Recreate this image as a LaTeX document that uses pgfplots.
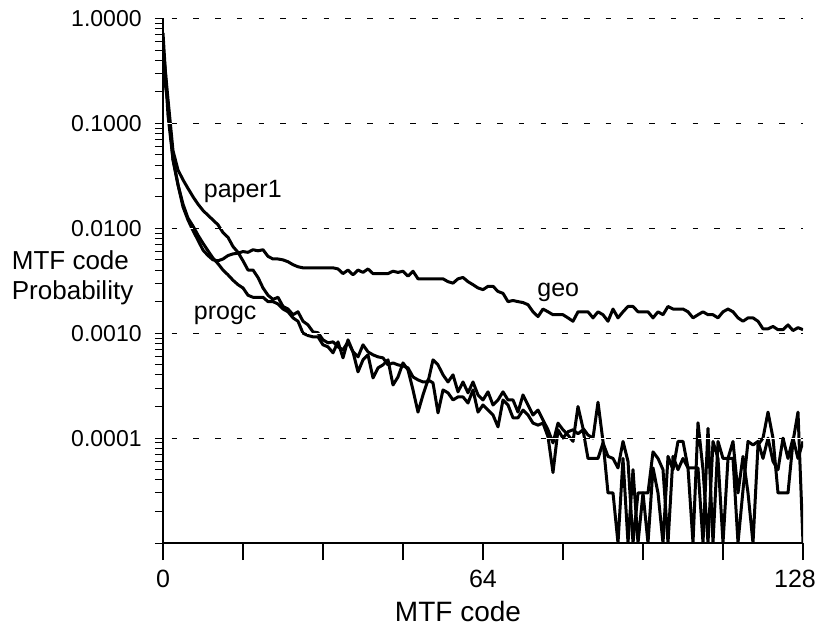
\documentclass[border=0pt]{standalone}
\usepackage{fontspec}
\setmainfont{Liberation Sans}
\usepackage{pgfplots}
\pgfplotsset{compat=1.18}
\usetikzlibrary{calc}
\pgfplotsset{mtf/.style={black, line width=1.5pt, line join=round, mark=none}}

\begin{document}
\begin{tikzpicture}
\begin{axis}[
  scale only axis, width=320pt, height=262.25pt,
  ymode=log, xmin=0, xmax=128, ymin=1e-5, ymax=1,
  axis x line*=bottom, axis y line*=left,
  axis line style={-, line width=1.2pt},
  axis on top,
  tick align=outside,
  major tick length=4pt, minor tick length=4pt,
  tick style={black, line width=0.5pt},
  xtick=\empty,
  extra x ticks={0,16,32,48,64,80,96,112,128},
  extra x tick labels={0,,,,64,,,,\kern-8pt 128},
  extra x tick style={major tick length=8.5pt, major tick style={line width=0.9pt}},
  ytick={1e-5,1e-4,1e-3,1e-2,1e-1,1},
  yticklabels={,0.0001,0.0010,0.0100,0.1000,1.0000},
  minor ytick={2e-5,3e-5,4e-5,5e-5,6e-5,7e-5,8e-5,9e-5,
               2e-4,3e-4,4e-4,5e-4,6e-4,7e-4,8e-4,9e-4,
               2e-3,3e-3,4e-3,5e-3,6e-3,7e-3,8e-3,9e-3,
               0.02,0.03,0.04,0.05,0.06,0.07,0.08,0.09,
               0.2,0.3,0.4,0.5,0.6,0.7,0.8,0.9},
  ymajorgrids,
  major grid style={black, line width=0.5pt, dash pattern=on 2.75pt off 8.1pt,
    dash phase=6.5pt, preaction={draw=white, solid, line width=0.6pt}},
  xticklabel style={font=\fontsize{12.5}{14}\selectfont, inner sep=0pt, yshift=-5pt},
  yticklabel style={font=\fontsize{11.5}{13}\selectfont, inner sep=0pt, xshift=-6.5pt},
]
% geo
\addplot[mtf] coordinates {
(0,0.35) (1,0.15) (2,0.045) (3,0.026) (4,0.016) (5,0.012) (6,0.0095) (7,0.0077)
(8,0.0062) (9,0.0055) (10,0.0050) (11,0.0049) (12,0.0051) (13,0.0055) (14,0.0057)
(15,0.0058) (16,0.0060) (17,0.0059) (18,0.00625) (19,0.0061) (20,0.00625)
(21,0.0054) (22,0.0051) (23,0.0051) (24,0.0050) (25,0.0048) (26,0.0045) (27,0.0043)
(28,0.0042) (29,0.0042) (30,0.0042) (31,0.0042) (32,0.0042) (33,0.0042) (34,0.0042)
(35,0.0041) (36,0.0037) (37,0.0040) (38,0.0036) (39,0.0040) (40,0.0038) (41,0.0041)
(42,0.0037) (43,0.0037) (44,0.0037) (45,0.0037) (46,0.0039) (47,0.0038) (48,0.0039)
(49,0.0035) (50,0.0039) (51,0.0033) (52,0.0033) (53,0.0033) (54,0.0033) (55,0.0033)
(56,0.0033) (57,0.0031) (58,0.0030) (59,0.0033) (60,0.0034) (61,0.0031) (62,0.0029)
(63,0.0027) (64,0.0026) (65,0.0028) (66,0.0028) (67,0.0025) (68,0.0024) (69,0.0020)
(70,0.00205) (71,0.0020) (72,0.00196) (73,0.00187) (74,0.0016) (75,0.00144)
(76,0.0017) (77,0.0016) (78,0.0015) (79,0.0015) (80,0.0015) (81,0.0014) (82,0.0013)
(83,0.0016) (84,0.0016) (85,0.0016) (86,0.0014) (87,0.0016) (88,0.0015) (89,0.0013)
(90,0.0017) (91,0.0014) (92,0.0016) (93,0.0018) (94,0.0018) (95,0.0016) (96,0.0016)
(97,0.0016) (98,0.0014) (99,0.0016) (100,0.0015) (101,0.0018) (102,0.0017)
(103,0.0017) (104,0.0017) (105,0.0016) (106,0.0014) (107,0.0015) (108,0.0016)
(109,0.0015) (110,0.0015) (111,0.0014) (112,0.0016) (113,0.0017) (114,0.0016)
(115,0.0014) (116,0.0013) (117,0.0014) (118,0.0014) (119,0.0013) (120,0.0011)
(121,0.0011) (122,0.00116) (123,0.00108) (124,0.00108) (125,0.0012) (126,0.00106)
(127,0.00113) (128,0.00108)
};
% paper1
\addplot[mtf] coordinates {
(0,0.55) (1,0.17) (2,0.055) (3,0.036) (4,0.029) (5,0.024) (6,0.020) (7,0.017)
(8,0.0148) (9,0.0133) (10,0.0120) (11,0.0108) (12,0.0091) (13,0.0082) (14,0.0067)
(15,0.0059) (16,0.0049) (17,0.0040) (18,0.0040) (19,0.0034) (20,0.0027) (21,0.0023)
(22,0.0021) (23,0.0022) (24,0.0018) (25,0.0017) (26,0.0015) (27,0.0016) (28,0.0013)
(29,0.0012) (30,1.03e-3) (31,1.01e-3) (32,8.65e-4) (33,8.09e-4) (34,8.27e-4)
(35,7.41e-4) (36,6.94e-4) (37,8.27e-4) (38,6.64e-4) (39,5.95e-4) (40,7.75e-4)
(41,6.64e-4) (42,6.22e-4) (43,5.95e-4) (44,5.82e-4) (45,4.99e-4) (46,5.21e-4)
(47,4.99e-4) (48,4.88e-4) (49,4.67e-4) (50,3.83e-4) (51,3.59e-4) (52,3.43e-4)
(53,3.43e-4) (54,5.57e-4) (55,4.99e-4) (56,4.01e-4) (57,3.43e-4) (58,4.01e-4)
(59,2.76e-4) (60,3.43e-4) (61,2.70e-4) (62,3.43e-4) (63,2.58e-4) (64,2.31e-4)
(65,2.76e-4) (66,2.07e-4) (67,2.31e-4) (68,2.76e-4) (69,2.31e-4) (70,2.31e-4)
(71,1.77e-4) (72,2.58e-4) (73,2.07e-4) (74,1.66e-4) (75,1.85e-4) (76,1.49e-4)
(77,1.20e-4) (78,9.0e-5) (79,1.39e-4) (80,1.20e-4) (81,1.07e-4) (82,9.3e-5)
(83,2.0e-4) (84,1.24e-4) (85,1.07e-4) (86,1.0e-4) (87,2.2e-4) (88,9.3e-5)
(89,3.0e-5) (90,3.0e-5) (91,1e-5) (92,6.4e-5) (93,1e-5) (94,5.0e-5) (95,1e-5)
(96,3.0e-5) (97,1e-5) (98,5.2e-5) (99,3.0e-5) (100,1e-5) (101,6.7e-5) (102,5.0e-5)
(103,9.3e-5) (104,9.3e-5) (105,5.2e-5) (106,1e-5) (107,1.4e-4) (108,5.0e-5)
(109,1e-5) (110,9.3e-5) (111,6.4e-5) (112,1e-5) (113,6.4e-5) (114,9.3e-5)
(115,3.0e-5) (116,6.7e-5) (117,3.0e-5) (118,1e-5) (119,8.6e-5) (120,1.0e-4)
(121,1.77e-4) (122,1.0e-4) (123,3.0e-5) (124,3.0e-5) (125,3.0e-5) (126,9.3e-5)
(127,1.77e-4) (128,1e-5)
};
% progc
\addplot[mtf] coordinates {
(0,0.73) (1,0.12) (2,0.045) (3,0.026) (4,0.017) (5,0.0125) (6,0.0105) (7,0.0086)
(8,0.0072) (9,0.0061) (10,0.0052) (11,0.0046) (12,0.0040) (13,0.0036) (14,0.0032)
(15,0.0029) (16,0.0027) (17,0.0023) (18,0.0022) (19,0.0022) (20,0.0022) (21,0.0020)
(22,0.0020) (23,0.0019) (24,0.0017) (25,0.0016) (26,0.0014) (27,0.0013) (28,0.0010)
(29,0.00095) (30,9.23e-4) (31,9.23e-4) (32,7.75e-4) (33,7.41e-4) (34,6.50e-4)
(35,8.27e-4) (36,5.82e-4) (37,8.65e-4) (38,6.64e-4) (39,4.28e-4) (40,5.57e-4)
(41,6.22e-4) (42,3.75e-4) (43,4.67e-4) (44,4.99e-4) (45,5.57e-4) (46,3.21e-4)
(47,3.83e-4) (48,5.21e-4) (49,4.47e-4) (50,2.88e-4) (51,1.77e-4) (52,2.58e-4)
(53,3.59e-4) (54,3.36e-4) (55,1.74e-4) (56,2.88e-4) (57,2.70e-4) (58,2.31e-4)
(59,2.47e-4) (60,2.47e-4) (61,2.16e-4) (62,2.88e-4) (63,1.77e-4) (64,2.07e-4)
(65,1.85e-4) (66,1.66e-4) (67,1.28e-4) (68,2.31e-4) (69,2.07e-4) (70,1.56e-4)
(71,1.56e-4) (72,1.85e-4) (73,1.66e-4) (74,1.39e-4) (75,1.33e-4) (76,1.39e-4)
(77,1.03e-4) (78,4.7e-5) (79,1.20e-4) (80,1.0e-4) (81,1.15e-4) (82,1.2e-4)
(83,1.1e-4) (84,1.2e-4) (85,6.4e-5) (86,6.4e-5) (87,6.4e-5) (88,9.0e-5) (89,6.7e-5)
(90,6.4e-5) (91,5.2e-5) (92,9.3e-5) (93,6.0e-5) (94,1e-5) (95,3.0e-5) (96,3.0e-5)
(97,3.0e-5) (98,7.4e-5) (99,6.4e-5) (100,5.0e-5) (101,1e-5) (102,6.7e-5)
(103,5.0e-5) (104,6.4e-5) (105,5.2e-5) (106,5.2e-5) (107,5.2e-5) (108,1e-5)
(109,1.24e-4) (110,1e-5) (111,9.3e-5) (112,6.4e-5) (113,6.4e-5) (114,6.4e-5)
(115,1e-5) (116,3.2e-5) (117,9.3e-5) (118,8.6e-5) (119,9.3e-5) (120,6.4e-5)
(121,1.0e-4) (122,6.0e-5) (123,5.0e-5) (124,1.0e-4) (125,6.4e-5) (126,1.0e-4)
(127,6.4e-5) (128,9.3e-5)
};
\node[anchor=base west, inner sep=0pt, font=\fontsize{12.5}{14}\selectfont] at (axis cs:8.1,0.0196) {paper1};
\node[anchor=base west, inner sep=0pt, font=\fontsize{12.5}{14}\selectfont] at (axis cs:6.1,0.00134) {progc};
\node[anchor=base west, inner sep=0pt, font=\fontsize{12.5}{14}\selectfont] at (axis cs:74.8,0.00224) {geo};
\coordinate (O) at (rel axis cs:0,0);
\coordinate (T) at (rel axis cs:1,1);
\end{axis}
\node[anchor=base west, inner sep=0pt, font=\fontsize{13}{15}\selectfont] at ($(O)+(-75.75pt,136.5pt)$) {MTF code};
\node[anchor=base west, inner sep=0pt, font=\fontsize{13}{15}\selectfont] at ($(O)+(-75.75pt,121.5pt)$) {Probability};
\node[anchor=base, inner sep=0pt, font=\fontsize{14}{16}\selectfont] at ($(O)+(147.5pt,-39pt)$) {MTF code};
\pgfresetboundingbox
\path[use as bounding box] ($(O)+(-81.5pt,-41.5pt)$) rectangle ($(T)+(8pt,9.25pt)$);
\end{tikzpicture}
\end{document}
